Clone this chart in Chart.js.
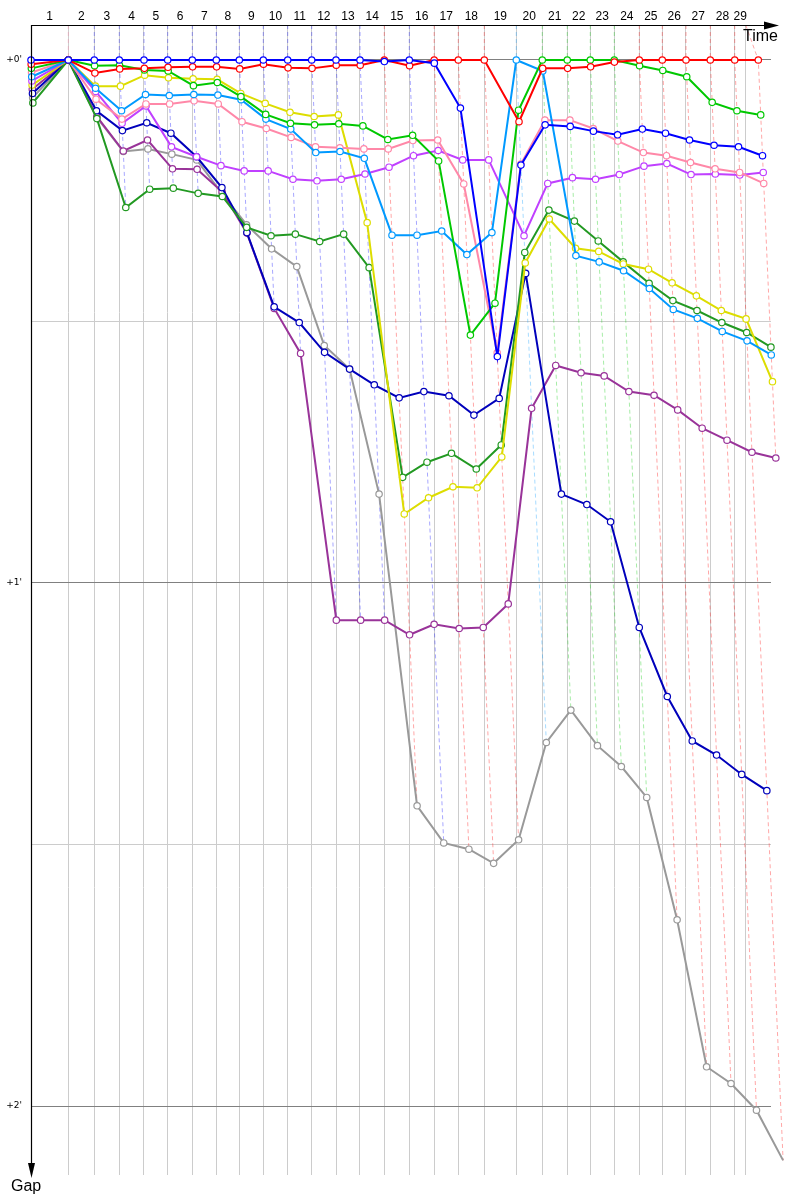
<!DOCTYPE html>
<html><head><meta charset="utf-8">
<script src="https://cdn.jsdelivr.net/npm/chart.js@4.4.1/dist/chart.umd.min.js"></script>
<style>html,body{margin:0;padding:0;background:#fff}canvas{display:block}</style>
</head><body>
<canvas id="c" width="800" height="1200"></canvas>
<script>
// ---- data (time and gaps in minutes) ----
const lapLabels = ['1','2','3','4','5','6','7','8','9','10','11','12','13','14','15','16','17','18','19','20','21','22','23','24','25','26','27','28','29'];
// leader crossing time at the end of each lap (lap 0 = start)
const leaderTimes = [0, 1.622, 2.752, 3.839, 4.913, 5.943, 7.013, 8.057, 9.057, 10.100, 11.161, 12.204, 13.261, 14.304, 15.361, 16.448, 17.530, 18.578, 19.709, 21.100, 22.230, 23.317, 24.317, 25.361, 26.448, 27.448, 28.478, 29.535, 30.596, 31.622];
const raceEnd = 31.074;
// who led each lap (laps 1..29)
const lapLeaders = ['pink','blue','blue','blue','blue','blue','blue','blue','blue','blue','blue','blue','blue','red','blue','red','red','red','lightblue','green','green','green','green','red','red','red','red','red','red'];
const gapTicks = [0, 0.5, 1, 1.5, 2];
const gapTickLabels = ["+0'", "", "+1'", "", "+2'"];

const redGaps       = [0.008,0,0.025,0.017,0.016,0.014,0.013,0.013,0.017,0.008,0.015,0.016,0.010,0.010,0,0.011,0,0,0,0.118,0.016,0.016,0.013,0.004,0,0,0,0,0,0];
const blueGaps      = [0,0,0,0,0,0,0,0,0,0,0,0,0,0,0.003,0,0.006,0.092,0.567,0.201,0.124,0.127,0.136,0.143,0.132,0.140,0.153,0.163,0.166,0.183];
const greenGaps     = [0.016,0,0.011,0.010,0.019,0.021,0.049,0.043,0.070,0.104,0.121,0.124,0.122,0.126,0.152,0.144,0.193,0.526,0.465,0.096,0,0,0,0,0.011,0.020,0.032,0.081,0.097,0.105];
const yellowGaps    = [0.048,0,0.050,0.050,0.029,0.034,0.036,0.037,0.064,0.083,0.100,0.108,0.105,0.311,0.868,0.837,0.816,0.818,0.759,0.388,0.304,0.360,0.366,0.390,0.400,0.426,0.451,0.479,0.495,0.615];
const lightblueGaps = [0.032,0,0.054,0.097,0.066,0.068,0.066,0.067,0.076,0.113,0.132,0.177,0.175,0.188,0.335,0.335,0.327,0.372,0.330,0,0.021,0.374,0.386,0.403,0.437,0.477,0.494,0.519,0.537,0.564];
const pinkGaps      = [0.024,0,0.075,0.113,0.084,0.084,0.078,0.084,0.118,0.131,0.148,0.166,0.168,0.170,0.170,0.154,0.153,0.237,0.560,0.199,0.115,0.115,0.131,0.155,0.177,0.183,0.196,0.208,0.215,0.236];
const violetGaps    = [0.040,0,0.060,0.121,0.088,0.166,0.185,0.202,0.212,0.212,0.228,0.231,0.228,0.218,0.205,0.183,0.173,0.191,0.191,0.336,0.236,0.225,0.228,0.219,0.203,0.198,0.219,0.218,0.220,0.215];
const darkgreenGaps = [0.082,0,0.112,0.282,0.247,0.245,0.255,0.261,0.320,0.336,0.333,0.347,0.333,0.397,0.798,0.769,0.752,0.782,0.736,0.368,0.287,0.308,0.346,0.386,0.427,0.460,0.479,0.502,0.521,0.549];
const purpleGaps    = [0.056,0,0.108,0.174,0.153,0.208,0.209,0.252,0.331,0.475,0.561,1.071,1.071,1.071,1.099,1.079,1.087,1.085,1.040,0.666,0.584,0.598,0.604,0.634,0.641,0.669,0.704,0.727,0.750,0.761];
const navyGaps      = [0.064,0,0.097,0.135,0.120,0.140,0.185,0.244,0.330,0.472,0.502,0.559,0.591,0.621,0.646,0.634,0.642,0.679,0.647,0.408,0.830,0.850,0.883,1.085,1.217,1.302,1.329,1.366,1.397];
const grayGaps      = [0.072,0,0.110,0.175,0.170,0.180,0.191,0.256,0.315,0.361,0.395,0.546,0.591,0.830,1.426,1.497,1.509,1.536,1.491,1.305,1.243,1.311,1.351,1.410,1.644,1.925,1.957,2.008,2.104];

// ---- styles ----
const series = [
  {name:'blue', gaps: blueGaps, color:'#0000ff', rgb:'0,0,255'},
  {name:'red', gaps: redGaps, color:'#ff0000', rgb:'255,0,0'},
  {name:'green', gaps: greenGaps, color:'#00c800', rgb:'0,200,0'},
  {name:'lightblue', gaps: lightblueGaps, color:'#0099ff', rgb:'0,153,255'},
  {name:'pink', gaps: pinkGaps, color:'#ff88a8', rgb:'255,120,160'},
  {name:'violet', gaps: violetGaps, color:'#c040ff', rgb:'192,64,255'},
  {name:'yellow', gaps: yellowGaps, color:'#dddd00', rgb:'221,221,0'},
  {name:'darkgreen', gaps: darkgreenGaps, color:'#229922', rgb:'34,153,34'},
  {name:'navy', gaps: navyGaps, color:'#0000bb', rgb:'0,0,187'},
  {name:'purple', gaps: purpleGaps, color:'#993399', rgb:'153,51,153'},
  {name:'gray', gaps: grayGaps, color:'#999999', rgb:'153,153,153'}
];
const byName = {}; series.forEach(s => byName[s.name] = s);
const gridTimes = leaderTimes.map(t => Math.min(t, raceEnd)).concat([raceEnd]).filter((v,i,a)=>a.indexOf(v)===i);
// time lines: laps 0..28 plus race end
const timeLines = leaderTimes.slice(0, leaderTimes.length - 1).concat([raceEnd]);

const datasets = series.map(s => ({
  label: s.name,
  data: s.gaps.map((g, j) => ({x: leaderTimes[j] + g, y: g})),
  borderColor: s.color,
  backgroundColor: s.color,
  borderWidth: 2,
  pointRadius: 3.2,
  pointBorderWidth: 1.2,
  pointBackgroundColor: '#ffffff',
  pointBorderColor: s.color,
  tension: 0,
  clip: false
}));

const lapLinesPlugin = {
  id: 'lapLines',
  beforeDatasetsDraw(chart) {
    const {ctx, scales:{x, y}, chartArea} = chart;
    ctx.save();
    ctx.lineWidth = 1;
    ctx.setLineDash([4, 3]);
    for (let j = 1; j < leaderTimes.length; j++) {
      const pts = [];
      series.forEach(s => { if (s.gaps[j] !== undefined) pts.push(s.gaps[j]); });
      pts.sort((a, b) => a - b);
      const leader = byName[lapLeaders[j - 1]];
      ctx.strokeStyle = 'rgba(' + leader.rgb + ',0.35)';
      ctx.beginPath();
      ctx.moveTo(x.getPixelForValue(Math.min(leaderTimes[j], raceEnd)), chartArea.top);
      pts.forEach(g => ctx.lineTo(x.getPixelForValue(leaderTimes[j] + g), y.getPixelForValue(g)));
      ctx.stroke();
    }
    ctx.restore();
  }
};

const decorPlugin = {
  id: 'decor',
  afterDraw(chart) {
    const {ctx, scales:{x, y}, chartArea} = chart;
    ctx.save();
    ctx.strokeStyle = '#000'; ctx.fillStyle = '#000'; ctx.lineWidth = 1.2;
    // x axis (top) with arrow
    const ty = chartArea.top + 0.5;
    ctx.beginPath(); ctx.moveTo(chartArea.left, ty); ctx.lineTo(767, ty); ctx.stroke();
    ctx.beginPath(); ctx.moveTo(779, ty); ctx.lineTo(764, ty - 4); ctx.lineTo(764, ty + 4); ctx.closePath(); ctx.fill();
    // y axis (left) with arrow
    const lx = chartArea.left + 0.5;
    ctx.beginPath(); ctx.moveTo(lx, chartArea.top); ctx.lineTo(lx, 1166); ctx.stroke();
    ctx.beginPath(); ctx.moveTo(lx, 1178); ctx.lineTo(lx - 3.5, 1163); ctx.lineTo(lx + 3.5, 1163); ctx.closePath(); ctx.fill();
    // lap numbers between time lines
    ctx.font = '12px "Liberation Sans", Arial, sans-serif';
    ctx.textAlign = 'center'; ctx.textBaseline = 'middle';
    for (let k = 1; k < timeLines.length; k++) {
      const xm = (x.getPixelForValue(timeLines[k - 1]) + x.getPixelForValue(timeLines[k])) / 2;
      ctx.fillText(lapLabels[k - 1], xm, 17);
    }
    // axis titles
    ctx.font = '16px "Liberation Sans", Arial, sans-serif';
    ctx.textAlign = 'left'; ctx.textBaseline = 'alphabetic';
    ctx.fillText('Time', 743, 41);
    ctx.fillText('Gap', 11, 1191);
    ctx.restore();
  }
};

new Chart(document.getElementById('c'), {
  type: 'line',
  data: { datasets },
  options: {
    responsive: false,
    animation: false,
    layout: { padding: { top: 0, left: 0, right: 29, bottom: 25 } },
    plugins: { legend: { display: false }, tooltip: { enabled: false } },
    scales: {
      x: {
        type: 'linear', position: 'top', min: 0, max: 32.174,
        afterBuildTicks: s => { s.ticks = timeLines.map(v => ({ value: v })); },
        afterFit: s => { s.height = 25; },
        grid: { color: '#cccccc', lineWidth: 1, drawTicks: false },
        border: { display: false },
        ticks: { display: false }
      },
      y: {
        type: 'linear', reverse: true, min: -0.06692, max: 2.13193,
        afterBuildTicks: s => { s.ticks = gapTicks.map(v => ({ value: v })); },
        afterFit: s => { s.width = 31; },
        grid: {
          color: c => (c.tick && c.tick.value % 1 === 0) ? '#808080' : '#cccccc',
          lineWidth: 1, drawTicks: false
        },
        border: { display: false },
        ticks: {
          padding: 9, color: '#000',
          font: { size: 9, family: '"DejaVu Sans", sans-serif' },
          callback: (v, i) => gapTickLabels[gapTicks.indexOf(v)] ?? ''
        }
      }
    }
  },
  plugins: [lapLinesPlugin, decorPlugin]
});
</script>
</body></html>
